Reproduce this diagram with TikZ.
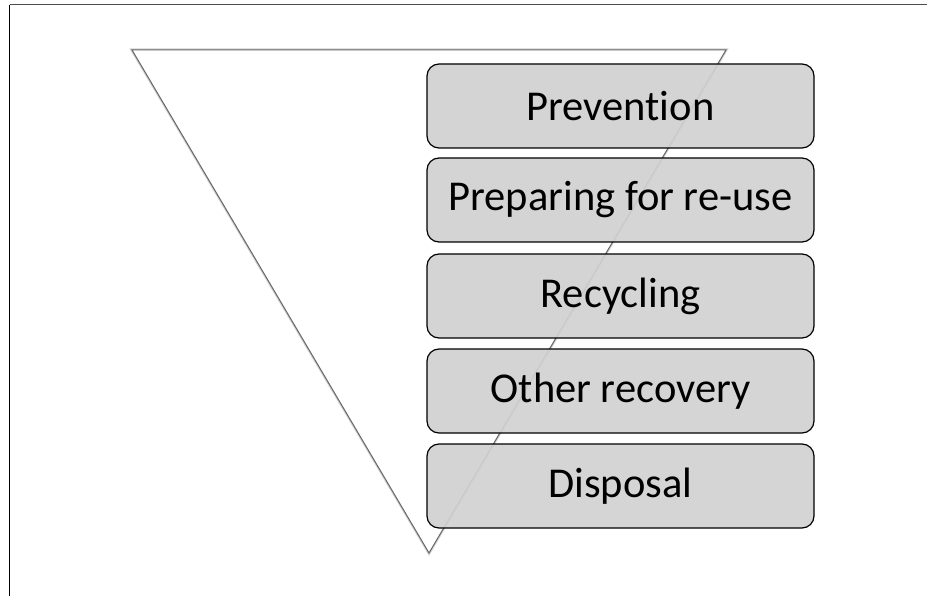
\documentclass[tikz,border=0pt]{standalone}
\usepackage{fontspec}
\setmainfont{Carlito}[Ligatures=NoCommon]
\tikzset{
  levelbox/.style={draw=black, line width=1.2pt, rounded corners=12pt,
    fill=black!18, fill opacity=0.92, text opacity=1,
    minimum width=387pt, minimum height=84pt, inner sep=0pt,
    font=\fontsize{42.5}{50}\selectfont},
  triline/.style={draw=black!60, line width=1pt, line join=miter},
  trishadow/.style={draw=black!30, line width=3pt, opacity=0.6}
}
\begin{document}
\begin{tikzpicture}[x=1pt,y=-1pt]
\useasboundingbox (0,0) rectangle (927,596);
% frame (partially visible)
\coordinate (ftl) at (9.5,4.7);
\coordinate (ftr) at (927,4.7);
\coordinate (fbl) at (9.5,596);
\draw[line width=1.6pt, black!70] (ftl) -- (ftr);
\draw[line width=1.6pt, black] (ftl) -- (fbl);
% inverted triangle
\coordinate (tl) at (132,50);
\coordinate (tr) at (726,50);
\coordinate (bt) at (429,553);
\draw[trishadow, shift={(1.8,1.8)}] (tl) -- (tr) -- (bt) -- cycle;
\filldraw[triline, fill=white] (tl) -- (tr) -- (bt) -- cycle;
% levels
\node[levelbox] (prev) at (620.5,106) {Prevention};
\node[levelbox] (prep) at (620.5,200) {Preparing for re-use};
\node[levelbox] (recy) at (620.5,296) {Recycling};
\node[levelbox] (othr) at (620.5,391) {Other recovery};
\node[levelbox] (disp) at (620.5,486) {Disposal};
\end{tikzpicture}
\end{document}
